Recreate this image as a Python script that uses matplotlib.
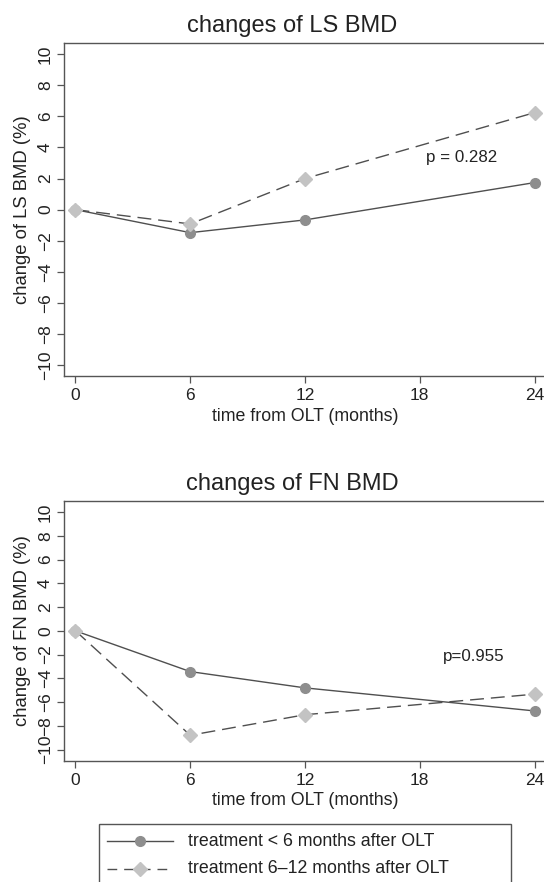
import matplotlib
matplotlib.use("Agg")
import matplotlib.pyplot as plt
from matplotlib.lines import Line2D
from matplotlib.patches import Rectangle

plt.rcParams['font.family'] = ['Liberation Sans', 'DejaVu Sans']

# ---- data ----
months = [0, 6, 12, 24]
xticks = [0, 6, 12, 18, 24]
yticks = [-10, -8, -6, -4, -2, 0, 2, 4, 6, 8, 10]

ls_early = [0, -1.48, -0.66, 1.74]
ls_late = [0, -0.92, 2.0, 6.24]
fn_early = [0, -3.43, -4.8, -6.74]
fn_late = [0, -8.79, -7.06, -5.33]

titles = ["changes of LS BMD", "changes of FN BMD"]
ylabels = ["change of LS BMD (%)", "change of FN BMD (%)"]
xlabel = "time from OLT (months)"
pvals = ["p = 0.282", "p=0.955"]
pval_pos = [(20.2, 3.35), (20.8, -2.19)]
legend_labels = ["treatment < 6 months after OLT", "treatment 6\u201312 months after OLT"]

# ---- style ----
W, H = 544, 882
DPI = 100
LINE_C = "#4f4f4f"
CIRC_C = "#8e8e8e"
DIAM_C = "#c3c3c3"
AX_C = "#555555"
TXT_C = "#222222"

early_style = dict(color=LINE_C, lw=1.0, ls='-', marker='o', ms=7.0,
                   mfc=CIRC_C, mec=CIRC_C, zorder=3)
late_style = dict(color=LINE_C, lw=1.0, ls=(0, (10, 5)), marker='D', ms=7.0,
                  mfc=DIAM_C, mec=DIAM_C, zorder=4)

fig = plt.figure(figsize=(W / DPI, H / DPI), dpi=DPI)


def px(x, y):
    return x / W, 1 - y / H


axes_px = [(64, 43.3, 546, 376, 10.7), (64, 501, 546, 760.7, 10.93)]
series = [(ls_early, ls_late), (fn_early, fn_late)]

for i, (l, t, r, b, ylim) in enumerate(axes_px):
    ax = fig.add_axes([l / W, 1 - b / H, (r - l) / W, (b - t) / H])
    e, la = series[i]
    ax.plot(months, e, **early_style)
    ax.plot(months, la, **late_style)
    ax.set_xlim(-0.6, 24.6)
    ax.set_ylim(-ylim, ylim)
    ax.set_xticks(xticks)
    ax.set_yticks(yticks)
    ax.set_xticklabels([str(v) for v in xticks])
    ax.set_yticklabels([str(v).replace('-', '\u2212') for v in yticks],
                       rotation=90, va='center')
    for s in ax.spines.values():
        s.set_color(AX_C)
        s.set_linewidth(1.0)
    ax.tick_params(axis='both', direction='out', length=5, width=0.9,
                   color=AX_C, labelsize=12.5, labelcolor=TXT_C)
    ax.tick_params(axis='x', pad=4)
    ax.tick_params(axis='y', pad=3)
    ax.set_xlabel(xlabel, fontsize=12.8, color=TXT_C, labelpad=3)
    ax.set_ylabel(ylabels[i], fontsize=13.3, color=TXT_C, labelpad=5)
    ax.text(pval_pos[i][0], pval_pos[i][1], pvals[i], ha='center', va='center',
            fontsize=12.2, color=TXT_C)
    tx, ty = px(292, t - 17.0)
    fig.text(tx, ty, titles[i], ha='center', va='center', fontsize=17, color=TXT_C)

# ---- legend (drawn manually, box runs off the bottom edge) ----
bx0, by0 = px(99.3, 900)
bx1, by1 = px(510.7, 824)
fig.add_artist(Rectangle((bx0, by0), bx1 - bx0, by1 - by0, transform=fig.transFigure,
                         fill=False, ec=AX_C, lw=1.0, clip_on=False))
rows = [841, 868.7]
for yrow, style, lab in zip(rows, [early_style, late_style], legend_labels):
    x0, y0 = px(106.7, yrow)
    x1, _ = px(173, yrow)
    xm, _ = px(140, yrow)
    st = dict(style)
    marker = st.pop('marker'); ms = st.pop('ms'); mfc = st.pop('mfc'); mec = st.pop('mec')
    st.pop('zorder')
    if st['ls'] != '-':
        st['ls'] = (0, (7, 5))
    fig.add_artist(Line2D([x0, x1], [y0, y0], transform=fig.transFigure, **st))
    fig.add_artist(Line2D([xm], [y0], transform=fig.transFigure, ls='none',
                          marker=marker, ms=ms, mfc=mfc, mec=mec))
    tx, _ = px(188, yrow)
    fig.text(tx, y0, lab, ha='left', va='center', fontsize=12.8, color=TXT_C)

fig.savefig("out.png", dpi=DPI)
